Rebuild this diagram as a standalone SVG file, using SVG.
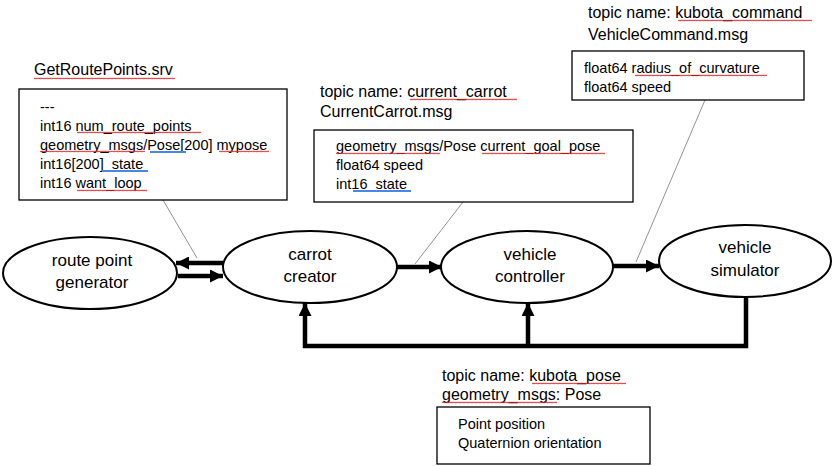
<svg xmlns="http://www.w3.org/2000/svg" width="835" height="466" viewBox="0 0 835 466">
<style>
text{font-family:"Liberation Sans",Arial,sans-serif;fill:#000}
.t{font-size:16px}
.b{font-size:14.5px}
.n{font-size:17px;text-anchor:middle}
.box{fill:#fff;stroke:#000;stroke-width:1.3}
.node{fill:#fff;stroke:#000;stroke-width:2}
.edge{fill:none;stroke:#000;stroke-width:4.5}
.lead{fill:none;stroke:#777;stroke-width:0.8}
.blue{stroke:#4a86e8;stroke-width:2.2}
</style>
<defs>
<marker id="ah" markerUnits="userSpaceOnUse" markerWidth="13" markerHeight="13" refX="13" refY="6.5" orient="auto">
<path d="M0,0 L13,6.5 L0,13 z" fill="#000"/>
</marker>
<pattern id="squig" patternUnits="userSpaceOnUse" width="4" height="3">
<path d="M0,2.2 L1,0.8 L2,2.2 L3,0.8 L4,2.2" fill="none" stroke="#e02020" stroke-width="0.8"/>
</pattern>
</defs>
<rect width="835" height="466" fill="#fff"/>

<g id="leaders">
<line class="lead" x1="163" y1="200" x2="197" y2="258"/>
<line class="lead" x1="463" y1="202" x2="415" y2="264"/>
<line class="lead" x1="705" y1="100" x2="636" y2="262"/>
</g>

<g id="box-getroutepoints">
<text class="t" x="34" y="75">GetRoutePoints.srv</text>
<rect class="box" x="19" y="89" width="268" height="111"/>
<text class="b" x="40" y="112">---</text>
<text class="b" x="40" y="131">int16 num_route_points</text>
<text class="b" x="40" y="150">geometry_msgs/Pose[200] mypose</text>
<text class="b" x="40" y="169">int16[200]_state</text>
<text class="b" x="40" y="188">int16 want_loop</text>
</g>

<g id="box-currentcarrot">
<text class="t" x="320" y="97">topic name: current_carrot</text>
<text class="t" x="320" y="117">CurrentCarrot.msg</text>
<rect class="box" x="314" y="130" width="319" height="72"/>
<text class="b" x="336" y="151">geometry_msgs/Pose current_goal_pose</text>
<text class="b" x="336" y="170">float64 speed</text>
<text class="b" x="336" y="189">int16_state</text>
</g>

<g id="box-vehiclecommand">
<text class="t" x="588" y="18">topic name: kubota_command</text>
<text class="t" x="588" y="40">VehicleCommand.msg</text>
<rect class="box" x="572" y="51" width="232" height="49"/>
<text class="b" x="584" y="73">float64 radius_of_curvature</text>
<text class="b" x="584" y="92">float64 speed</text>
</g>

<g id="box-kubotapose">
<text class="t" x="442" y="381">topic name: kubota_pose</text>
<text class="t" x="442" y="400">geometry_msgs: Pose</text>
<rect class="box" x="437" y="407" width="213" height="57"/>
<text class="b" x="458" y="429">Point position</text>
<text class="b" x="458" y="448">Quaternion orientation</text>
</g>

<g id="underlines">
<g transform="translate(34,77)"><rect width="141" height="3" fill="url(#squig)"/></g>
<g transform="translate(77,131)"><rect width="124" height="3" fill="url(#squig)"/></g>
<g transform="translate(40,150)"><rect width="105" height="3" fill="url(#squig)"/></g>
<g transform="translate(219,150)"><rect width="50" height="3" fill="url(#squig)"/></g>
<g transform="translate(77,189)"><rect width="70" height="3" fill="url(#squig)"/></g>
<g transform="translate(410,98)"><rect width="107" height="3" fill="url(#squig)"/></g>
<g transform="translate(336,152)"><rect width="104" height="3" fill="url(#squig)"/></g>
<g transform="translate(482,152)"><rect width="123" height="3" fill="url(#squig)"/></g>
<g transform="translate(678,19)"><rect width="134" height="3" fill="url(#squig)"/></g>
<g transform="translate(635,74)"><rect width="132" height="3" fill="url(#squig)"/></g>
<g transform="translate(532,382)"><rect width="94" height="3" fill="url(#squig)"/></g>
<g transform="translate(442,401)"><rect width="115" height="3" fill="url(#squig)"/></g>
<line class="blue" x1="150" y1="152" x2="186" y2="152"/>
<line class="blue" x1="102" y1="171" x2="148" y2="171"/>
<line class="blue" x1="353" y1="191" x2="411" y2="191"/>
</g>

<g id="connectors">
<line class="edge" x1="223" y1="263" x2="176" y2="263" marker-end="url(#ah)"/>
<line class="edge" x1="178" y1="276" x2="223" y2="276" marker-end="url(#ah)"/>
<line class="edge" x1="397" y1="267" x2="442" y2="267" marker-end="url(#ah)"/>
<line class="edge" x1="613" y1="266" x2="659" y2="266" marker-end="url(#ah)"/>
<polyline class="edge" points="746,297 746,346 305,346 305,303" marker-end="url(#ah)"/>
<line class="edge" x1="528" y1="346" x2="528" y2="303" marker-end="url(#ah)"/>
</g>

<g id="node-route-point-generator">
<ellipse class="node" cx="90" cy="273" rx="87" ry="36"/>
<text class="n" x="92" y="266">route point</text>
<text class="n" x="92" y="288">generator</text>
</g>
<g id="node-carrot-creator">
<ellipse class="node" cx="310" cy="267" rx="87" ry="36"/>
<text class="n" x="310" y="260">carrot</text>
<text class="n" x="310" y="282">creator</text>
</g>
<g id="node-vehicle-controller">
<ellipse class="node" cx="527" cy="267" rx="86" ry="36"/>
<text class="n" x="530" y="260">vehicle</text>
<text class="n" x="530" y="282">controller</text>
</g>
<g id="node-vehicle-simulator">
<ellipse class="node" cx="745" cy="261" rx="86" ry="36"/>
<text class="n" x="745" y="253">vehicle</text>
<text class="n" x="745" y="276">simulator</text>
</g>
</svg>
